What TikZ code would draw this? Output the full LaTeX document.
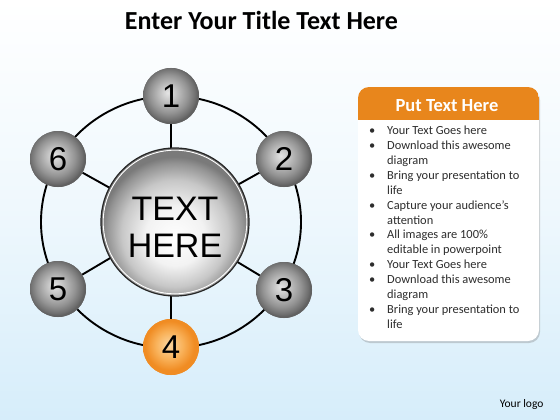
\documentclass[tikz,border=0pt]{standalone}
\usepackage{fontspec}
\setmainfont{Carlito}
\newfontfamily\arialf{Liberation Sans}
\usetikzlibrary{shadows}
\definecolor{bgblue}{RGB}{214,237,250}
\definecolor{hdrorange}{RGB}{232,134,28}
\definecolor{bodytext}{RGB}{45,45,45}
\definecolor{oc}{RGB}{252,214,160}
\definecolor{om}{RGB}{249,178,90}
\definecolor{oe}{RGB}{240,140,35}
\pgfdeclareradialshading{gsphere}{\pgfpoint{-3bp}{3bp}}{%
  color(0bp)=(black!10); color(8bp)=(black!25); color(17bp)=(black!42);
  color(23bp)=(black!56); color(25bp)=(black!62); color(50bp)=(black!62)}
\pgfdeclareradialshading{osphere}{\pgfpoint{-2bp}{2bp}}{%
  color(0bp)=(oc); color(12bp)=(om); color(22bp)=(oe);
  color(25bp)=(oe); color(50bp)=(oe)}
\pgfdeclareradialshading{bsphere}{\pgfpoint{0bp}{-6bp}}{%
  color(0bp)=(white); color(10bp)=(black!5); color(18bp)=(black!22);
  color(23bp)=(black!42); color(25bp)=(black!52); color(50bp)=(black!52)}
\tikzset{
  ball/.style={circle, minimum size=56pt, inner sep=0pt, shading=gsphere,
    font=\arialf\fontsize{33}{33}\selectfont, text=black},
  orangeball/.style={ball, shading=osphere},
  link/.style={line width=1.9pt, black},
  bodyfont/.style={font=\fontsize{12.4}{15}\selectfont, text=bodytext},
}
\begin{document}
\begin{tikzpicture}[x=1pt, y=-1pt]
\useasboundingbox (0,0) rectangle (560,420);
\shade[top color=white, bottom color=bgblue, middle color=white!60!bgblue] (0,0) rectangle (560,420);
% title
\node[anchor=base, font=\bfseries\fontsize{26}{26}\selectfont] (title) at (261.5,29.5) {Enter Your Title Text Here};
% ring and spokes
\coordinate (hub) at (171,222);
\draw[link] (hub) ellipse [x radius=130pt, y radius=126pt];
\node[ball] (n1) at (171,96) {1};
\node[ball] (n2) at (284,159) {2};
\node[ball] (n3) at (284,290) {3};
\node[orangeball] (n4) at (171,347) {4};
\node[ball] (n5) at (58,289) {5};
\node[ball] (n6) at (58,159) {6};
\foreach \i in {1,...,6} {\draw[link] (hub) -- (n\i);}
\foreach \i in {1,2,3,5,6} {\path[shading=gsphere] (n\i.center) circle (28pt);}
\path[shading=osphere] (n4.center) circle (28pt);
\foreach \i/\t in {1/1,2/2,3/3,4/4,5/5,6/6} {\node[font=\arialf\fontsize{33}{33}\selectfont] at (n\i.center) {\t};}
% center sphere
\node[circle, minimum size=148pt, inner sep=0pt, shading=bsphere, draw=black!85, line width=1.2pt] (c) at (175,222) {};
\draw[white, line width=0.9pt] (c.center) circle (71.8pt);
\node[align=center, font=\arialf\fontsize{34}{37}\selectfont] (ctext) at (175,227) {TEXT\\HERE};
% text box
\begin{scope}
\path[fill=white, rounded corners=11pt, drop shadow={opacity=0.35, shadow xshift=1pt, shadow yshift=-2pt}]
  (358,87) rectangle (539,341);
\clip[rounded corners=11pt] (358,87) rectangle (539,341);
\fill[hdrorange] (358,87) rectangle (539,120);
\end{scope}
\node[anchor=base, text=white, font=\bfseries\fontsize{18.5}{19}\selectfont] (hdr) at (447,111) {Put Text Here};
\node[anchor=base west, inner sep=0pt, bodyfont] (list) at (369,134) {%
\begin{tabular}[t]{@{}p{18pt}@{}l@{}}
\textbullet & Your Text Goes here\\
\textbullet & Download this awesome\\
 & diagram\\
\textbullet & Bring your presentation to\\
 & life\\
\textbullet & Capture your audience’s\\
 & attention\\
\textbullet & All images are 100\%\\
 & editable in powerpoint\\
\textbullet & Your Text Goes here\\
\textbullet & Download this awesome\\
 & diagram\\
\textbullet & Bring your presentation to\\
 & life
\end{tabular}};
\node[anchor=base east, font=\fontsize{11.5}{11}\selectfont] (logo) at (547,407) {Your logo};
\end{tikzpicture}
\end{document}
